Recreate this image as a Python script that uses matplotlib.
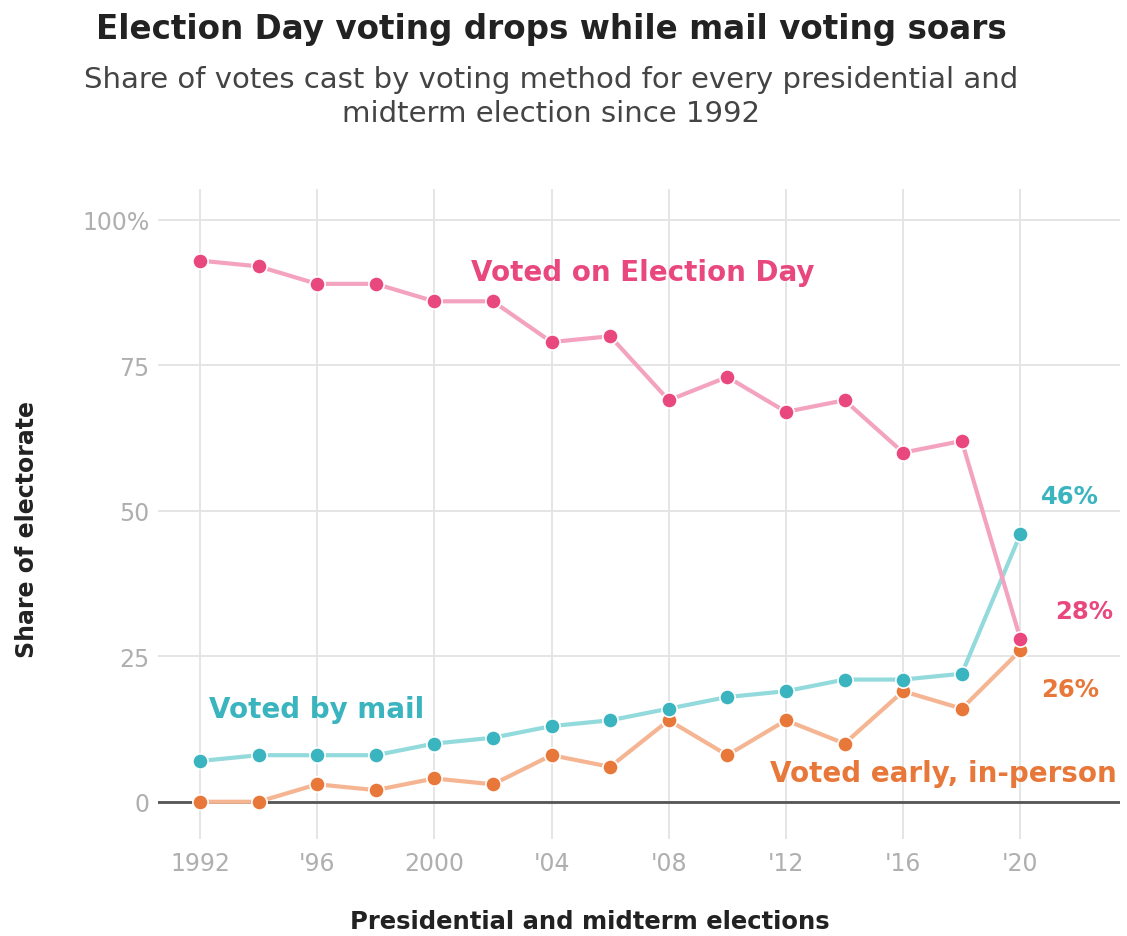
import matplotlib.pyplot as plt

# election years and share of votes by method (percent)
years = [1992, 1994, 1996, 1998, 2000, 2002, 2004, 2006, 2008, 2010, 2012, 2014, 2016, 2018, 2020]
election_day = [93, 92, 89, 89, 86, 86, 79, 80, 69, 73, 67, 69, 60, 62, 28]
by_mail = [7, 8, 8, 8, 10, 11, 13, 14, 16, 18, 19, 21, 21, 22, 46]
early = [0, 0, 3, 2, 4, 3, 8, 6, 14, 8, 14, 10, 19, 16, 26]

tick_years = [1992, 1996, 2000, 2004, 2008, 2012, 2016, 2020]
tick_labels = ['1992', "'96", '2000', "'04", "'08", "'12", "'16", "'20"]
y_ticks = [0, 25, 50, 75, 100]
y_labels = ['0', '25', '50', '75', '100%']

pink_dot, pink_line = '#e9487f', '#f3a3bf'
teal_dot, teal_line = '#3ab4bf', '#93dadd'
orng_dot, orng_line = '#e8783a', '#f5b592'
narrow = ['Liberation Sans Narrow', 'DejaVu Sans']

fig = plt.figure(figsize=(11.27, 9.37), dpi=100)
ax = fig.add_axes([158/1127, 1 - 840/937, (1120-158)/1127, (840-190)/937])

for vals, lc, dc in [(early, orng_line, orng_dot), (by_mail, teal_line, teal_dot), (election_day, pink_line, pink_dot)]:
    ax.plot(years, vals, color=lc, lw=3, zorder=3)
    ax.plot(years, vals, 'o', color=dc, ms=11, mec='white', mew=1.2, zorder=4)

ax.set_xlim(1990.57, 2023.4)
ax.set_ylim(-6.4, 105.3)
ax.set_xticks(tick_years)
ax.set_xticklabels(tick_labels)
ax.set_yticks(y_ticks)
ax.set_yticklabels(y_labels)
ax.grid(True, color='#e3e3e3', lw=1.3, zorder=0)
ax.axhline(0, color='#555555', lw=2, zorder=2)
for s in ax.spines.values():
    s.set_visible(False)
for lab in ax.get_xticklabels() + ax.get_yticklabels():
    lab.set_family(narrow)
ax.tick_params(length=0, labelsize=17, labelcolor='#afafaf', pad=9)
ax.tick_params(axis='y', pad=6)

# series labels
ax.text(2007.1, 91, 'Voted on Election Day', color=pink_dot, fontsize=20, fontweight='bold', ha='center', va='center')
ax.text(1992.3, 16, 'Voted by mail', color=teal_dot, fontsize=20, fontweight='bold', ha='left', va='center')
ax.text(2023.3, 5, 'Voted early, in-person', color=orng_dot, fontsize=20, fontweight='bold', ha='right', va='center')
ax.text(2020.7, 52.5, '46%', color=teal_dot, fontsize=17.5, fontweight='bold', ha='left', va='center', family=narrow)
ax.text(2021.2, 32.7, '28%', color=pink_dot, fontsize=17.5, fontweight='bold', ha='left', va='center', family=narrow)
ax.text(2020.7, 19.4, '26%', color=orng_dot, fontsize=17.5, fontweight='bold', ha='left', va='center', family=narrow)

fig.text(27/1127, 1 - 530/937, 'Share of electorate', fontsize=17, fontweight='bold', color='#222222',
         rotation=90, ha='center', va='center')
fig.text(590/1127, 1 - 922/937, 'Presidential and midterm elections', fontsize=17.5, fontweight='bold',
         color='#222222', ha='center', va='center')
fig.text(551/1127, 1 - 30/937, 'Election Day voting drops while mail voting soars', fontsize=23.5,
         fontweight='bold', color='#222222', ha='center', va='center')
fig.text(551/1127, 1 - 97/937, 'Share of votes cast by voting method for every presidential and\nmidterm election since 1992',
         fontsize=21, color='#444444', ha='center', va='center', linespacing=1.3)

fig.savefig('out.png', dpi=100)
